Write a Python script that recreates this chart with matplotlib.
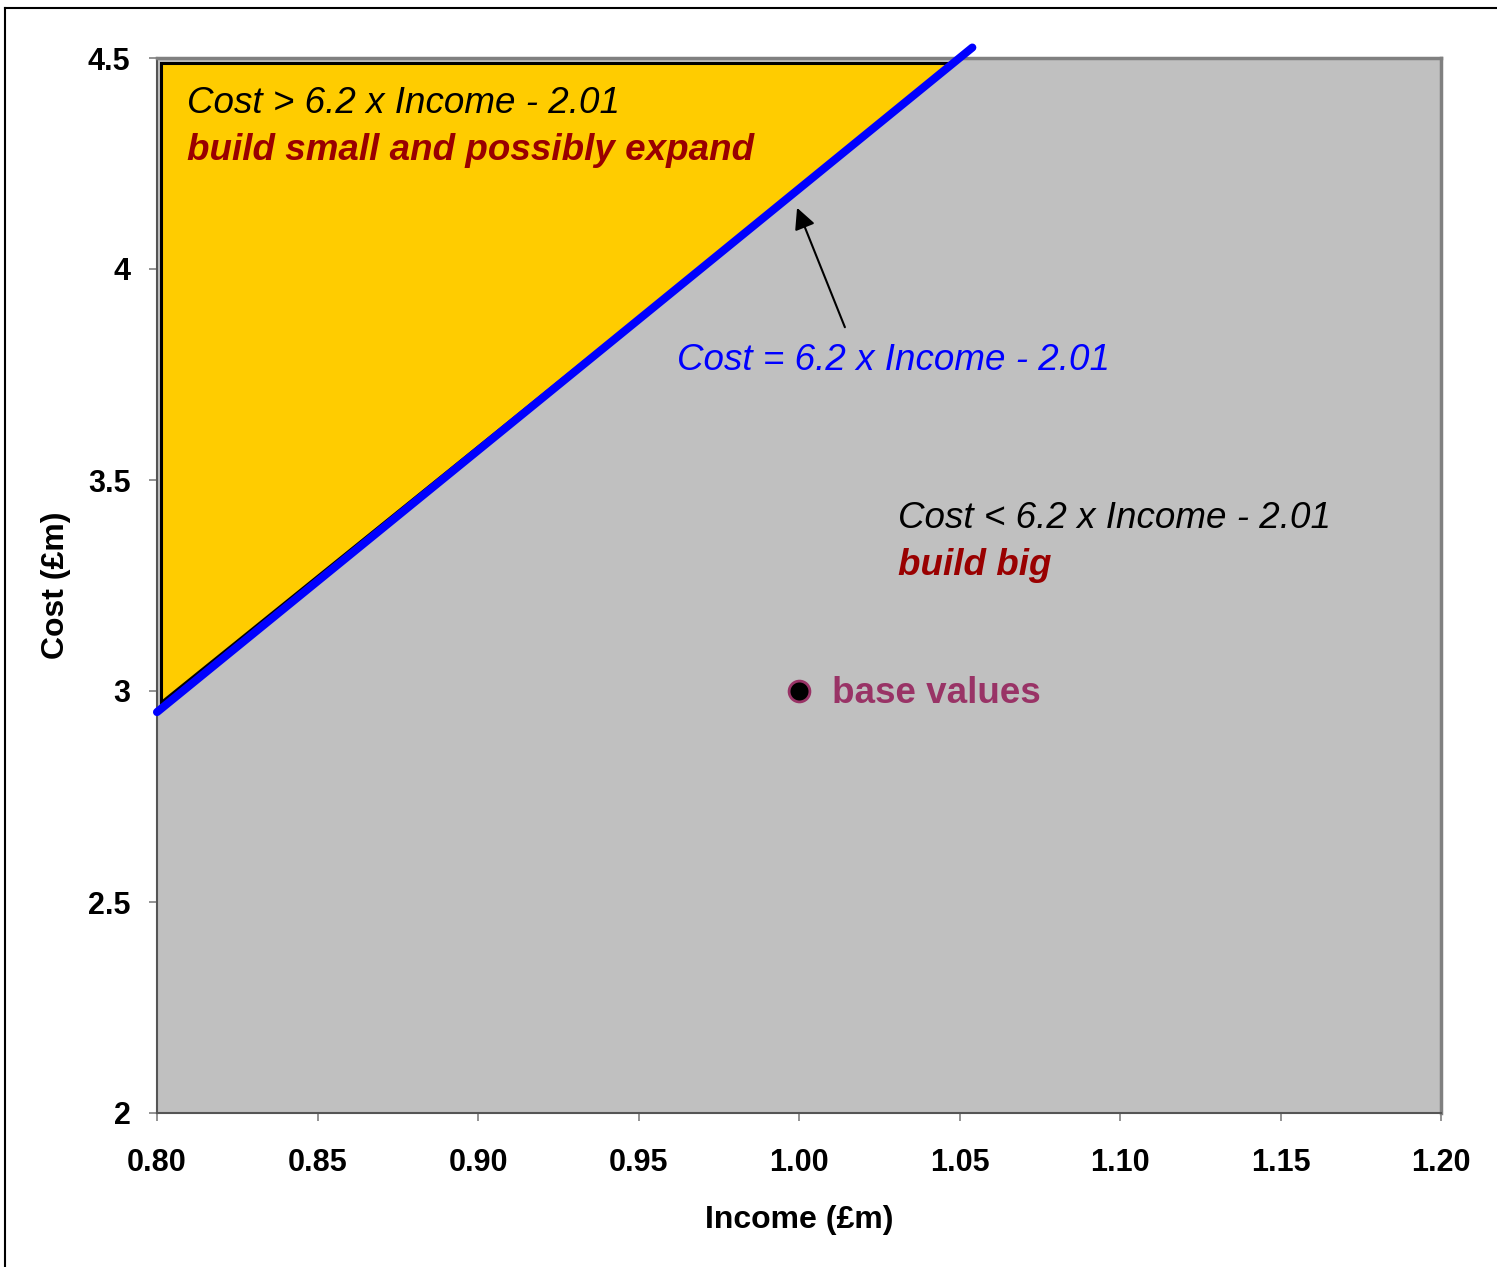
import matplotlib
matplotlib.use("Agg")
import matplotlib.pyplot as plt
from matplotlib.lines import Line2D
import numpy as np

plt.rcParams['font.family'] = ['Liberation Sans', 'DejaVu Sans']

# decision boundary: cost = slope * income + intercept
slope = 6.2
intercept = -2.01
line_income = [0.80, 1.054]
region_small = [(0.8012, 2.975), (0.8012, 4.488), (1.048, 4.488)]  # build small area
base_income = [1.00]
base_cost = [3.0]
xticks = [0.80, 0.85, 0.90, 0.95, 1.00, 1.05, 1.10, 1.15, 1.20]
yticks = [2, 2.5, 3, 3.5, 4, 4.5]

fig = plt.figure(figsize=(14.97, 12.67), dpi=100)
ax = fig.add_axes([157/1497, 1 - 1113/1267, (1441-157)/1497, (1113-58)/1267])
ax.set_facecolor('#C0C0C0')

ax.fill([p[0] for p in region_small], [p[1] for p in region_small],
        facecolor='#FFCC00', edgecolor='black', linewidth=2.2, zorder=2)

lx = np.array(line_income)
ax.plot(lx, slope * lx + intercept, color='#0000FF', linewidth=5.8,
        solid_capstyle='round', clip_on=False, zorder=3)

ax.plot(base_income, base_cost, 'o', markersize=15, markerfacecolor='black',
        markeredgecolor='#993366', markeredgewidth=2, zorder=4)
ax.text(1.0102, 2.9716, 'base values', color='#993366', fontsize=26.5,
        fontweight='bold', va='baseline', ha='left')

ax.text(0.8093, 4.3697, 'Cost > 6.2 x Income - 2.01', fontsize=26.5, style='italic',
        va='baseline', color='black')
ax.text(0.8093, 4.2583, 'build small and possibly expand', fontsize=26.5,
        style='italic', fontweight='bold', va='baseline', color='#990000')
ax.text(0.962, 3.7607, 'Cost = 6.2 x Income - 2.01', fontsize=26.5, style='italic',
        va='baseline', color='#0000FF')
ax.text(1.0308, 3.3863, 'Cost < 6.2 x Income - 2.01', fontsize=26.5, style='italic',
        va='baseline', color='black')
ax.text(1.0308, 3.2749, 'build big', fontsize=26.5, style='italic', fontweight='bold',
        va='baseline', color='#990000')

ax.annotate('', xy=(0.9994, 4.145), xytext=(1.0143, 3.862),
            arrowprops=dict(arrowstyle='-|>', color='black', lw=1.5,
                            mutation_scale=32, shrinkA=0, shrinkB=0))

ax.set_xlim(0.80, 1.20)
ax.set_ylim(2, 4.5)
ax.set_xticks(xticks)
ax.set_xticklabels(['%.2f' % v for v in xticks])
ax.set_yticks(yticks)
ax.set_yticklabels(['%g' % v for v in yticks])
ax.tick_params(axis='both', direction='out', length=6, width=1.2, color='#808080',
               labelsize=22)
ax.tick_params(axis='x', pad=19.5)
ax.tick_params(axis='y', pad=13)
for lab in ax.get_xticklabels() + ax.get_yticklabels():
    lab.set_fontweight('bold')

for side in ['top', 'right']:
    ax.spines[side].set_color('#808080')
    ax.spines[side].set_linewidth(2.5)
for side in ['left', 'bottom']:
    ax.spines[side].set_color('#555555')
    ax.spines[side].set_linewidth(1.5)

ax.set_xlabel('Income (£m)', fontsize=23, fontweight='bold', labelpad=19)
ax.set_ylabel('Cost (£m)', fontsize=23, fontweight='bold', labelpad=12)

# outer frame
fig.add_artist(Line2D([5/1497, 5/1497], [0, 1 - 8/1267], color='black', lw=1.5))
fig.add_artist(Line2D([5/1497, 1], [1 - 8/1267, 1 - 8/1267], color='black', lw=1.5))

fig.savefig('out.png', dpi=100)
